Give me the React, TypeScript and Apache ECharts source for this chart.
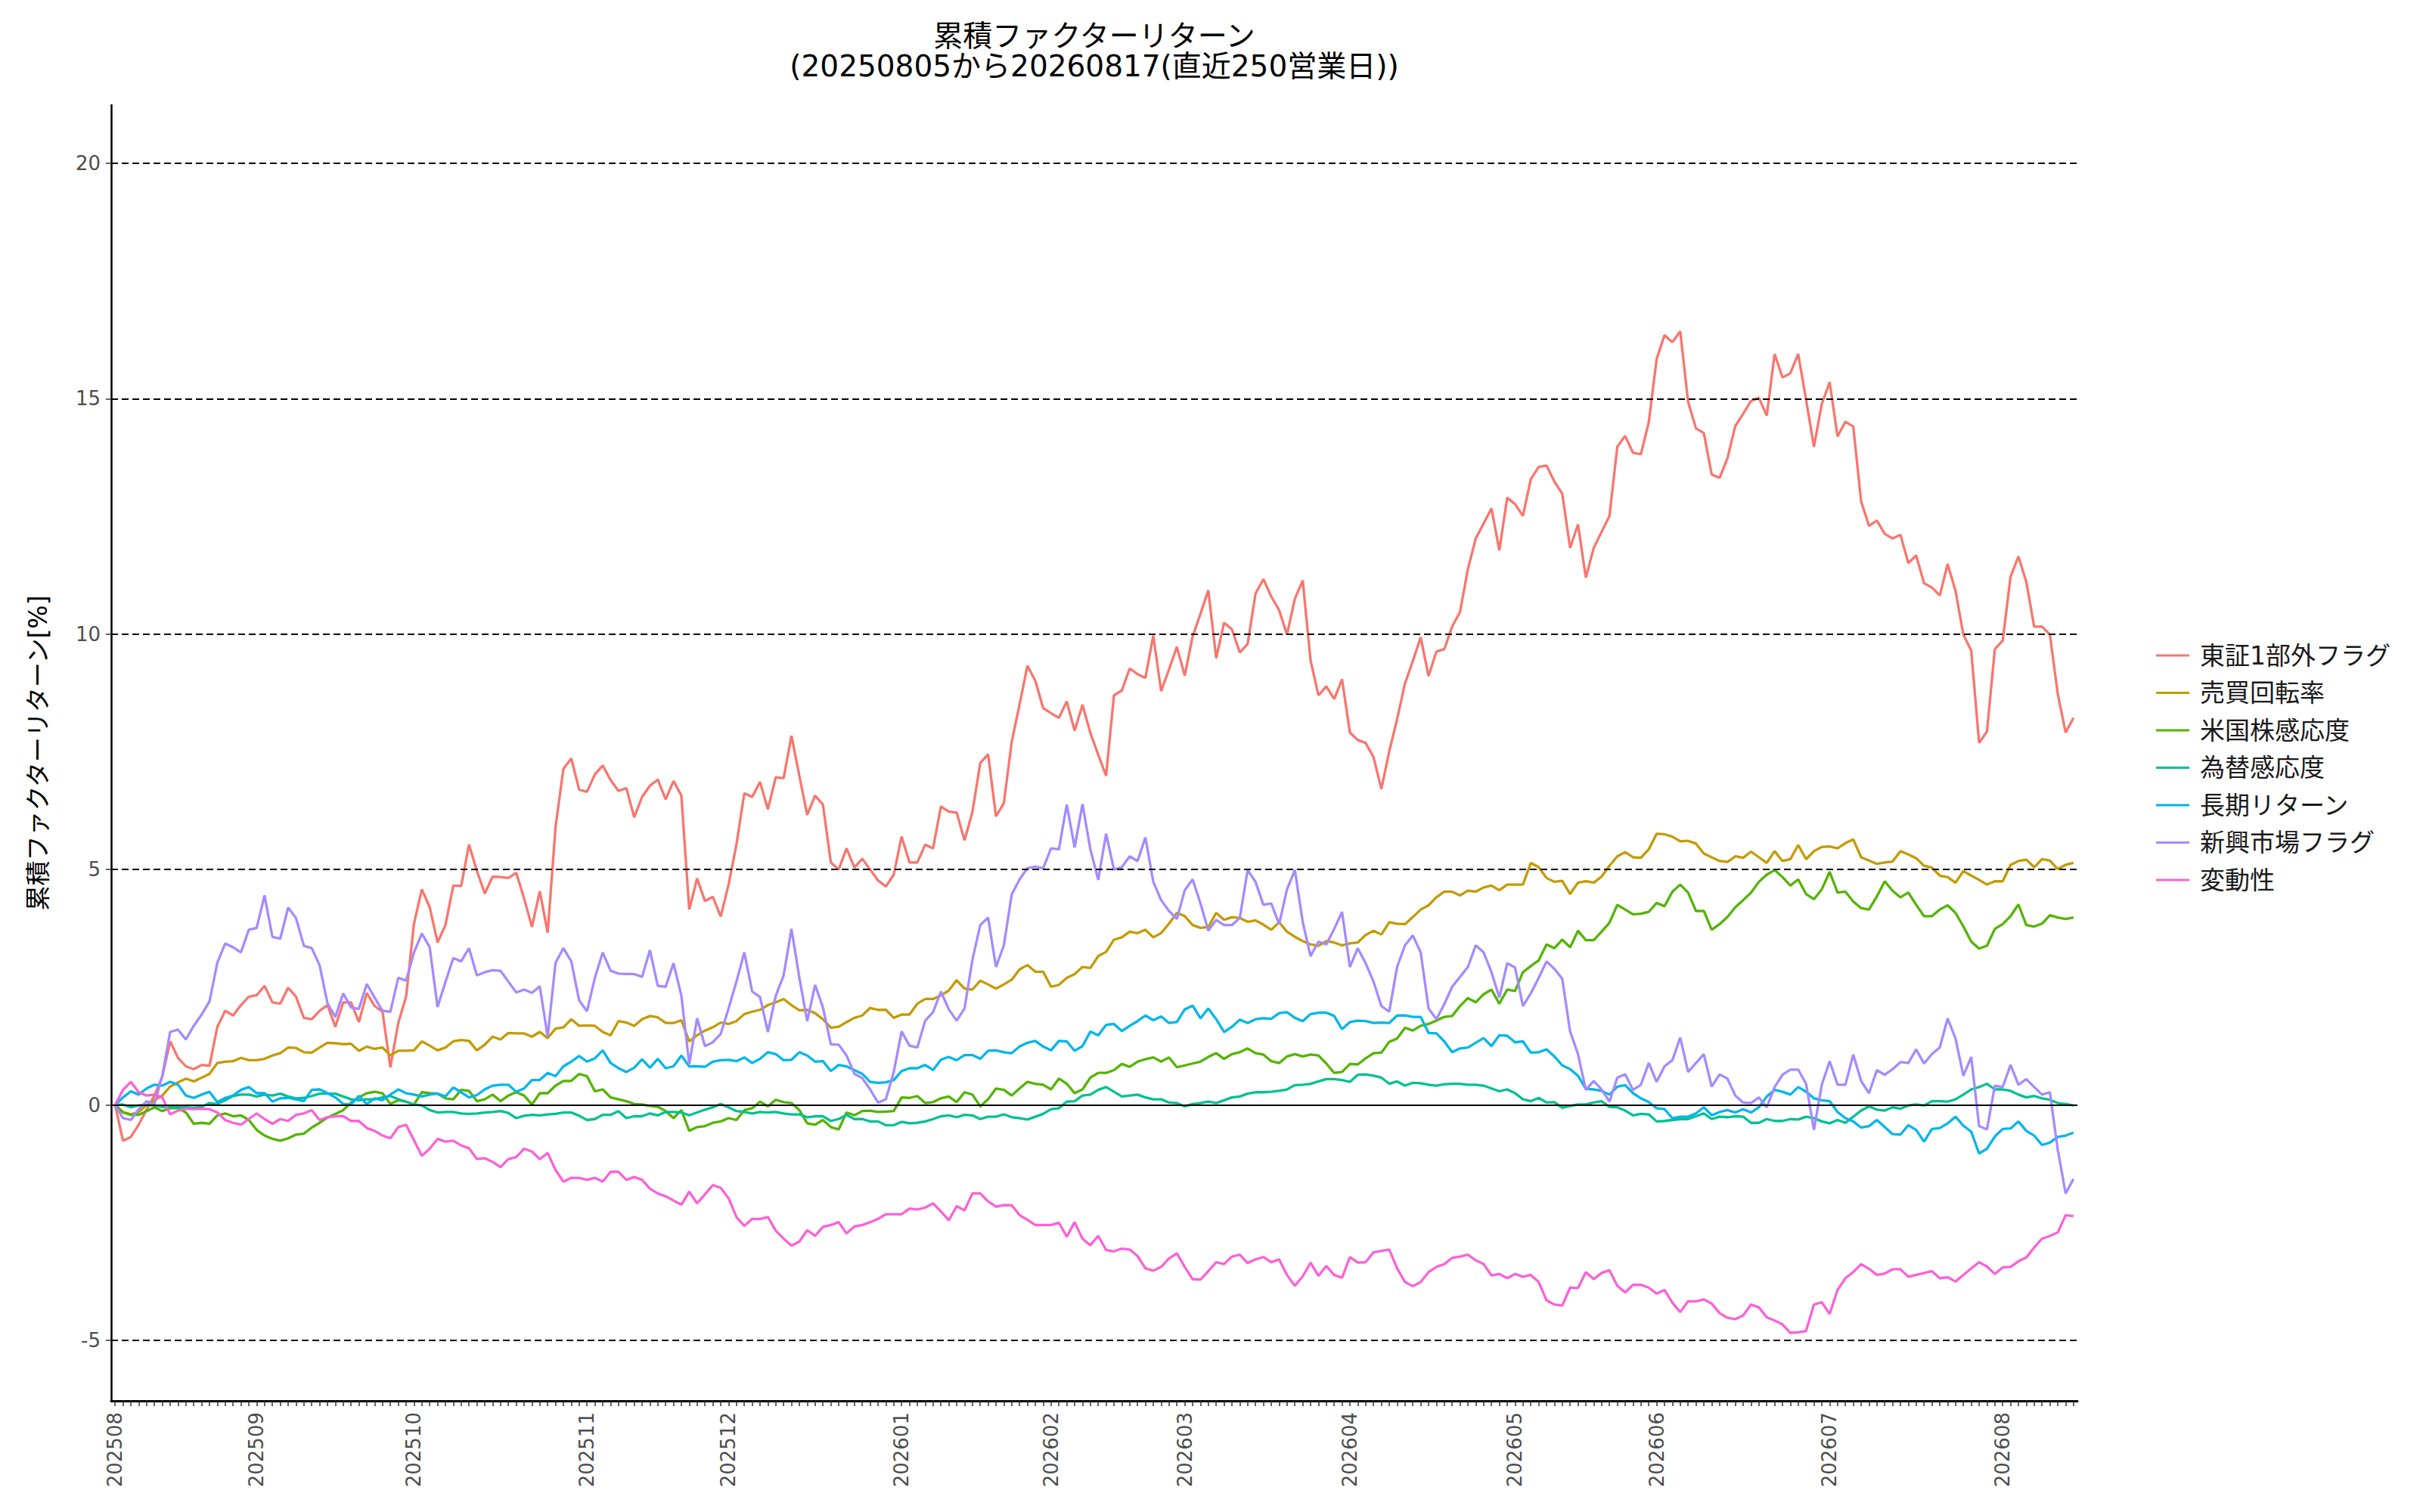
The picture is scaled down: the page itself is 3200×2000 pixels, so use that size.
import React, { useEffect, useRef } from "react";
import * as echarts from "echarts";

const TITLE_LINE_1 = "累積ファクターリターン";
const TITLE_LINE_2 = "(20250805から20260817(直近250営業日))";
const Y_NAME = "累積ファクターリターン[%]";

const MONTHS = ["202508", "202509", "202510", "202511", "202512", "202601", "202602", "202603", "202604", "202605", "202606", "202607", "202608"];
const MONTH_DAYS = [18, 20, 22, 18, 22, 19, 17, 21, 21, 18, 22, 22, 10];

const Y_TICKS = [-5, 0, 5, 10, 15, 20];
const DASHED_LEVELS = [-5, 5, 10, 15, 20];

const SERIES_NAMES = ["東証1部外フラグ", "売買回転率", "米国株感応度", "為替感応度", "長期リターン", "新興市場フラグ", "変動性"];
const COLORS = ["#F8766D", "#C49A00", "#53B400", "#00C094", "#00B6EB", "#A58AFF", "#FB61D7"];

const TSE_OUTSIDE = [
  0, -0.76, -0.68, -0.42, -0.1, 0.2, 0.6, 1.35, 1.0, 0.82,
  0.76, 0.85, 0.83, 1.66, 2.0, 1.9, 2.12, 2.3, 2.33, 2.53,
  2.18, 2.15, 2.49, 2.3, 1.85, 1.82, 2.0, 2.12, 1.66, 2.18,
  2.18, 1.76, 2.38, 2.1, 1.98, 0.8, 1.74, 2.3, 3.85, 4.58,
  4.2, 3.45, 3.82, 4.66, 4.65, 5.53, 4.97, 4.49, 4.85, 4.84,
  4.82, 4.93, 4.39, 3.78, 4.54, 3.66,
  5.9, 7.14, 7.36, 6.7, 6.65, 7.02, 7.21, 6.9, 6.67, 6.73,
  6.11, 6.54, 6.78, 6.91, 6.49, 6.88, 6.57, 4.15, 4.81, 4.33,
  4.42, 4.0, 4.68, 5.53, 6.62, 6.54, 6.86, 6.28, 6.96, 6.94,
  7.84, 6.99, 6.16, 6.57, 6.38, 5.15, 5.0, 5.45, 5.04, 5.23,
  5.0, 4.77, 4.64, 4.89, 5.7, 5.15, 5.15, 5.53, 5.45, 6.34,
  6.23, 6.21, 5.62, 6.22, 7.26, 7.45, 6.13, 6.41, 7.71, 8.51,
  9.33, 9.01, 8.43, 8.32, 8.22, 8.57, 7.95, 8.5, 7.9, 7.44,
  6.99, 8.7, 8.8, 9.27, 9.15, 9.07, 9.97, 8.79, 9.25, 9.73,
  9.12, 9.95, 10.43, 10.93, 9.49, 10.24, 10.1, 9.61, 9.79, 10.86,
  11.17, 10.8, 10.51, 9.99, 10.75, 11.14, 9.44, 8.7, 8.89, 8.62,
  9.04,
  7.91, 7.75, 7.69, 7.39, 6.71, 7.51, 8.19, 8.95, 9.43, 9.93,
  9.11, 9.63, 9.68, 10.16, 10.47, 11.38, 12.03, 12.35, 12.67, 11.78,
  12.9, 12.76, 12.51, 13.29, 13.55, 13.58, 13.24, 12.98, 11.83, 12.33,
  11.2, 11.83, 12.17, 12.51, 13.98, 14.21, 13.85, 13.82, 14.5, 15.84,
  16.35, 16.2, 16.43, 14.93, 14.37, 14.27, 13.39, 13.32, 13.73, 14.42,
  14.68, 14.95, 15.02, 14.64, 15.95, 15.45, 15.54, 15.95, 14.98, 13.98,
  14.89, 15.35, 14.2, 14.51, 14.41, 12.82, 12.3, 12.41, 12.13, 12.03,
  12.11, 11.51, 11.67, 11.08, 10.99, 10.82, 11.49, 10.92, 9.99, 9.65,
  7.69, 7.93, 9.68, 9.86, 11.22, 11.65, 11.11, 10.16, 10.16, 9.99,
  8.73, 7.91, 8.22,
];

const TURNOVER = [
  0, -0.15, -0.2, -0.15, 0.0, 0.1, 0.2, 0.39, 0.48, 0.56,
  0.5, 0.58, 0.66, 0.89, 0.92, 0.93, 1.0, 0.95, 0.95, 0.98,
  1.05, 1.1, 1.22, 1.21, 1.12, 1.11, 1.22, 1.32, 1.31, 1.29,
  1.3, 1.15, 1.24, 1.19, 1.22, 1.05, 1.15, 1.15, 1.16, 1.35,
  1.26, 1.16, 1.22, 1.35, 1.38, 1.36, 1.16, 1.28, 1.45, 1.39,
  1.53, 1.52, 1.52, 1.45, 1.55, 1.42, 1.62, 1.65, 1.82, 1.68,
  1.69, 1.68, 1.55,
  1.48, 1.78, 1.75, 1.68, 1.82, 1.89, 1.86, 1.74, 1.74, 1.8,
  1.35, 1.48, 1.58, 1.65, 1.75, 1.72, 1.78, 1.93, 1.98, 2.02,
  2.12, 2.18, 2.25, 2.12, 2.01, 2.02, 1.95, 1.82, 1.64, 1.66,
  1.76, 1.85, 1.9, 2.06, 2.02, 2.02, 1.85, 1.92, 1.92, 2.15,
  2.25, 2.25, 2.33, 2.43, 2.65, 2.47, 2.45, 2.64, 2.56, 2.47,
  2.56, 2.66, 2.88, 2.97, 2.83, 2.83, 2.51, 2.55, 2.7, 2.78,
  2.93, 2.91, 3.16,
  3.25, 3.51, 3.56, 3.68, 3.65, 3.72, 3.56, 3.65, 3.85, 4.08,
  4.01, 3.82, 3.76, 3.78, 4.08, 3.93, 3.99, 3.97, 3.89, 3.92,
  3.83, 3.72, 3.88, 3.68, 3.57, 3.48, 3.41, 3.38, 3.48, 3.45,
  3.39, 3.43, 3.45, 3.61, 3.7, 3.62, 3.88, 3.85, 3.84, 3.99,
  4.15, 4.24, 4.41, 4.53, 4.53, 4.45, 4.55, 4.53, 4.62, 4.66,
  4.56, 4.68, 4.68, 4.68, 5.14, 5.05, 4.82, 4.74, 4.76, 4.48,
  4.72, 4.75, 4.72, 4.85,
  5.08, 5.28, 5.37, 5.26, 5.25, 5.43, 5.76, 5.75, 5.7, 5.6,
  5.61, 5.55, 5.34, 5.26, 5.18, 5.16, 5.28, 5.25, 5.38, 5.26,
  5.14, 5.39, 5.18, 5.22, 5.52, 5.22, 5.39, 5.48, 5.49, 5.45,
  5.56, 5.64, 5.26, 5.19, 5.12, 5.15, 5.17, 5.39, 5.32, 5.24,
  5.08, 5.04, 4.87, 4.84, 4.72, 4.97, 4.87, 4.78, 4.68, 4.75,
  4.75, 5.1, 5.18, 5.21, 5.05, 5.22, 5.19, 5.01, 5.1, 5.14,
];

const US_SENS = [
  0, -0.16, -0.21, -0.21, -0.13, -0.05, -0.13, -0.07, -0.07, -0.16,
  -0.4, -0.38, -0.4, -0.22, -0.18, -0.24, -0.22, -0.32, -0.53, -0.65,
  -0.72, -0.76, -0.71, -0.63, -0.61, -0.48, -0.38, -0.27, -0.19, -0.11,
  0.05, 0.16, 0.25, 0.28, 0.25, 0.02, 0.1, 0.07, 0.01, 0.27,
  0.25, 0.24, 0.14, 0.12, 0.32, 0.3, 0.08, 0.12, 0.22, 0.08,
  0.2, 0.27, 0.2, 0.01, 0.25, 0.25, 0.41, 0.51, 0.51, 0.66,
  0.61, 0.29, 0.33,
  0.16, 0.12, 0.08, 0.02, 0.01, -0.02, -0.04, -0.13, -0.28, -0.11,
  -0.55, -0.47, -0.45, -0.38, -0.35, -0.28, -0.32, -0.11, -0.07, 0.07,
  -0.03, 0.11, 0.06, 0.04, -0.11, -0.39, -0.42, -0.32, -0.47, -0.52,
  -0.16, -0.22, -0.13, -0.12, -0.15, -0.14, -0.13, 0.16, 0.15, 0.19,
  0.04, 0.06, 0.14, 0.18, 0.06, 0.27, 0.22, -0.03, 0.12, 0.35,
  0.32, 0.2, 0.35, 0.49, 0.45, 0.43, 0.33, 0.56, 0.45, 0.25,
  0.33, 0.58, 0.68,
  0.68, 0.74, 0.87, 0.81, 0.92, 0.97, 1.01, 0.92, 1.01, 0.8,
  0.84, 0.88, 0.92, 1.02, 1.1, 0.98, 1.08, 1.12, 1.2, 1.1,
  1.07, 0.93, 0.89, 1.03, 1.08, 1.03, 1.07, 1.05, 0.88, 0.68,
  0.7, 0.87, 0.86, 0.99, 1.1, 1.11, 1.34, 1.41, 1.64, 1.58,
  1.68, 1.72, 1.79, 1.87, 1.89, 2.1, 2.27, 2.18, 2.35, 2.45,
  2.15, 2.45, 2.42, 2.82, 2.95, 3.07, 3.41, 3.33, 3.51, 3.35,
  3.7, 3.5, 3.5, 3.68,
  3.87, 4.25, 4.15, 4.05, 4.06, 4.1, 4.29, 4.22, 4.53, 4.68,
  4.51, 4.12, 4.12, 3.72, 3.84, 3.99, 4.2, 4.35, 4.51, 4.74,
  4.89, 4.99, 4.84, 4.66, 4.79, 4.48, 4.37, 4.58, 4.95, 4.51,
  4.53, 4.32, 4.18, 4.15, 4.43, 4.75, 4.55, 4.41, 4.51, 4.25,
  4.01, 4.01, 4.15, 4.24, 4.08, 3.79, 3.47, 3.32, 3.38, 3.74,
  3.84, 4.01, 4.26, 3.82, 3.79, 3.85, 4.03, 3.98, 3.95, 3.98,
];

const FX_SENS = [
  0, 0.01, -0.05, -0.01, 0.0, -0.01, -0.04, -0.05, -0.05, -0.05,
  -0.06, -0.04, 0.04, 0.02, 0.1, 0.19, 0.22, 0.22, 0.18, 0.22,
  0.2, 0.24, 0.18, 0.14, 0.15, 0.19, 0.24, 0.24, 0.24, 0.18,
  0.12, 0.1, 0.12, 0.12, 0.16, 0.19, 0.12, 0.07, 0.01, -0.01,
  -0.11, -0.16, -0.15, -0.15, -0.18, -0.19, -0.18, -0.16, -0.15, -0.13,
  -0.17, -0.28, -0.23, -0.21, -0.22, -0.2, -0.19, -0.16, -0.16, -0.23,
  -0.32, -0.3, -0.21,
  -0.21, -0.13, -0.28, -0.24, -0.24, -0.18, -0.22, -0.15, -0.15, -0.16,
  -0.22, -0.16, -0.1, -0.05, 0.02, -0.05, -0.13, -0.15, -0.18, -0.15,
  -0.16, -0.15, -0.18, -0.2, -0.2, -0.26, -0.24, -0.24, -0.34, -0.3,
  -0.21, -0.3, -0.3, -0.35, -0.35, -0.43, -0.43, -0.36, -0.39, -0.38,
  -0.35, -0.3, -0.24, -0.22, -0.26, -0.21, -0.22, -0.3, -0.25, -0.25,
  -0.2, -0.26, -0.28, -0.31, -0.25, -0.19, -0.09, -0.07, 0.07, 0.08,
  0.2, 0.22, 0.32,
  0.38, 0.28, 0.18, 0.2, 0.22, 0.16, 0.12, 0.12, 0.05, 0.04,
  -0.03, 0.02, 0.04, 0.07, 0.04, 0.1, 0.16, 0.18, 0.24, 0.27,
  0.27, 0.28, 0.3, 0.33, 0.42, 0.43, 0.45, 0.5, 0.55, 0.55,
  0.53, 0.49, 0.64, 0.65, 0.62, 0.58, 0.45, 0.5, 0.41, 0.47,
  0.46, 0.43, 0.41, 0.44, 0.45, 0.45, 0.43, 0.43, 0.41, 0.35,
  0.29, 0.33, 0.25, 0.12, 0.08, 0.15, 0.05, 0.06, -0.06, -0.02,
  0.01, 0.01, 0.05, 0.08,
  -0.04, -0.05, -0.12, -0.22, -0.19, -0.2, -0.35, -0.34, -0.32, -0.3,
  -0.3, -0.24, -0.18, -0.3, -0.25, -0.26, -0.24, -0.25, -0.38, -0.38,
  -0.3, -0.34, -0.34, -0.3, -0.31, -0.25, -0.28, -0.35, -0.39, -0.32,
  -0.38, -0.25, -0.12, -0.03, -0.1, -0.12, -0.05, -0.08, -0.01, 0.01,
  -0.01, 0.08, 0.08, 0.07, 0.12, 0.22, 0.33, 0.38, 0.45, 0.33,
  0.33, 0.3, 0.22, 0.16, 0.19, 0.14, 0.11, 0.04, 0.02, -0.01,
];

const LONG_RETURN = [
  0, 0.16, 0.29, 0.22, 0.35, 0.43, 0.41, 0.49, 0.43, 0.2,
  0.15, 0.22, 0.28, 0.06, 0.15, 0.2, 0.32, 0.38, 0.25, 0.25,
  0.07, 0.14, 0.15, 0.12, 0.08, 0.32, 0.33, 0.25, 0.16, 0.02,
  0.01, 0.19, 0.02, 0.14, 0.1, 0.22, 0.33, 0.25, 0.22, 0.18,
  0.22, 0.24, 0.18, 0.37, 0.27, 0.16, 0.21, 0.33, 0.41, 0.43,
  0.43, 0.28, 0.35, 0.53, 0.53, 0.68, 0.61, 0.82, 0.92, 1.04,
  0.92, 0.99, 1.16,
  0.89, 0.78, 0.7, 0.79, 0.97, 0.79, 0.98, 0.78, 0.82, 1.05,
  0.82, 0.82, 0.81, 0.92, 0.95, 0.96, 0.93, 1.01, 0.89, 0.98,
  1.12, 1.08, 0.95, 0.96, 1.12, 1.05, 0.92, 0.93, 0.72, 0.85,
  0.82, 0.74, 0.66, 0.49, 0.47, 0.48, 0.53, 0.72, 0.78, 0.78,
  0.85, 0.74, 0.96, 1.02, 0.95, 1.06, 1.06, 0.98, 1.15, 1.16,
  1.12, 1.1, 1.24, 1.32, 1.36, 1.24, 1.16, 1.36, 1.35, 1.15,
  1.25, 1.56, 1.48,
  1.7, 1.72, 1.57, 1.68, 1.78, 1.9, 1.8, 1.88, 1.74, 1.76,
  2.03, 2.11, 1.84, 2.05, 1.82, 1.55, 1.66, 1.81, 1.74, 1.82,
  1.84, 1.83, 1.95, 1.97, 1.85, 1.78, 1.93, 1.96, 1.96, 1.89,
  1.61, 1.76, 1.79, 1.78, 1.74, 1.75, 1.74, 1.9, 1.9, 1.87,
  1.87, 1.53, 1.52, 1.35, 1.12, 1.2, 1.22, 1.32, 1.42, 1.25,
  1.48, 1.47, 1.33, 1.35, 1.11, 1.12, 1.18, 1.03, 0.84, 0.76,
  0.62, 0.34, 0.33, 0.3,
  0.22, 0.39, 0.42, 0.25, 0.14, 0.06, -0.07, -0.09, -0.28, -0.25,
  -0.25, -0.18, -0.05, -0.22, -0.15, -0.11, -0.16, -0.09, -0.16, -0.05,
  0.18, 0.32, 0.28, 0.22, 0.38, 0.28, 0.14, 0.1, 0.08, -0.15,
  -0.28, -0.35, -0.48, -0.45, -0.32, -0.47, -0.62, -0.63, -0.43, -0.53,
  -0.78, -0.51, -0.49, -0.39, -0.25, -0.44, -0.57, -1.03, -0.93, -0.67,
  -0.51, -0.5, -0.35, -0.55, -0.65, -0.85, -0.8, -0.68, -0.65, -0.59,
];

const EMERGING = [
  0, -0.28, -0.32, -0.09, 0.08, 0.02, 0.62, 1.55, 1.6, 1.39,
  1.68, 1.92, 2.2, 3.02, 3.43, 3.35, 3.24, 3.72, 3.76, 4.45,
  3.57, 3.53, 4.19, 3.97, 3.38, 3.33, 2.97, 2.16, 1.87, 2.37,
  2.07, 2.04, 2.57, 2.28, 2.0, 1.98, 2.7, 2.64, 3.24, 3.64,
  3.35, 2.08, 2.61, 3.12, 3.05, 3.33, 2.75, 2.82, 2.86, 2.85,
  2.62, 2.39, 2.45, 2.38, 2.52, 1.45, 3.02, 3.33, 3.05, 2.22,
  1.99, 2.7, 3.24,
  2.85, 2.79, 2.78, 2.78, 2.72, 3.29, 2.53, 2.51, 3.01, 2.32,
  0.87, 1.84, 1.25, 1.33, 1.51, 2.05, 2.62, 3.24, 2.41, 2.29,
  1.55, 2.32, 2.75, 3.74, 2.7, 1.78, 2.55, 2.07, 1.29, 1.28,
  1.05, 0.66, 0.57, 0.33, 0.05, 0.12, 0.7, 1.56, 1.26, 1.22,
  1.79, 1.97, 2.41, 2.03, 1.79, 2.05, 3.08, 3.82, 3.98, 2.93,
  3.39, 4.47, 4.79, 5.03, 5.06, 5.03, 5.45, 5.43, 6.38, 5.47,
  6.39, 5.43, 4.78,
  5.76, 5.0, 5.05, 5.28, 5.18, 5.68, 4.74, 4.35, 4.12, 3.95,
  4.56, 4.79, 4.28, 3.7, 3.93, 3.82, 3.82, 3.97, 4.99, 4.74,
  4.25, 4.28, 3.84, 4.58, 4.99, 3.89, 3.16, 3.47, 3.41, 3.74,
  4.1, 2.93, 3.33, 3.01, 2.62, 2.1, 1.98, 2.93, 3.39, 3.6,
  3.24, 2.05, 1.82, 2.14, 2.51, 2.72, 2.93, 3.39, 3.24, 2.82,
  2.28, 3.01, 2.92, 2.1, 2.37, 2.7, 3.05, 2.89, 2.68, 1.56,
  1.08, 0.32, 0.51, 0.33,
  0.07, 0.58, 0.65, 0.32, 0.43, 0.89, 0.49, 0.82, 0.95, 1.43,
  0.7, 0.89, 1.08, 0.39, 0.65, 0.56, 0.2, 0.05, 0.04, 0.16,
  -0.05, 0.38, 0.64, 0.75, 0.75, 0.45, -0.53, 0.43, 0.93, 0.43,
  0.43, 1.07, 0.51, 0.25, 0.74, 0.64, 0.76, 0.91, 0.89, 1.18,
  0.88, 1.08, 1.22, 1.84, 1.41, 0.62, 1.02, -0.45, -0.52, 0.41,
  0.38, 0.85, 0.43, 0.55, 0.38, 0.22, 0.27, -0.95, -1.88, -1.57,
];

const VOLATILITY = [
  0, 0.32, 0.49, 0.27, 0.2, 0.22, 0.16, -0.2, -0.12, -0.08,
  -0.09, -0.08, -0.09, -0.16, -0.32, -0.38, -0.42, -0.3, -0.18, -0.3,
  -0.4, -0.3, -0.34, -0.21, -0.18, -0.11, -0.32, -0.26, -0.24, -0.24,
  -0.34, -0.34, -0.49, -0.55, -0.65, -0.71, -0.47, -0.42, -0.75, -1.08,
  -0.93, -0.72, -0.78, -0.76, -0.86, -0.92, -1.15, -1.13, -1.21, -1.32,
  -1.15, -1.11, -0.93, -0.99, -1.15, -1.02, -1.38, -1.63, -1.55, -1.55,
  -1.59, -1.55, -1.63,
  -1.42, -1.42, -1.59, -1.53, -1.59, -1.78, -1.88, -1.94, -2.03, -2.12,
  -1.84, -2.09, -1.9, -1.7, -1.76, -1.98, -2.38, -2.57, -2.42, -2.42,
  -2.38, -2.67, -2.84, -2.99, -2.9, -2.66, -2.78, -2.59, -2.55, -2.49,
  -2.73, -2.58, -2.55, -2.49, -2.42, -2.32, -2.32, -2.32, -2.2, -2.22,
  -2.18, -2.09, -2.26, -2.45, -2.15, -2.24, -1.88, -1.88, -2.05, -2.16,
  -2.13, -2.13, -2.34, -2.44, -2.55, -2.55, -2.55, -2.5, -2.8, -2.49,
  -2.84, -2.98, -2.78,
  -3.08, -3.11, -3.05, -3.07, -3.21, -3.47, -3.52, -3.44, -3.26, -3.15,
  -3.44, -3.7, -3.71, -3.53, -3.34, -3.38, -3.22, -3.18, -3.36, -3.28,
  -3.23, -3.34, -3.28, -3.61, -3.84, -3.64, -3.35, -3.63, -3.42, -3.61,
  -3.67, -3.23, -3.35, -3.34, -3.13, -3.1, -3.07, -3.47, -3.76, -3.85,
  -3.76, -3.55, -3.44, -3.38, -3.25, -3.22, -3.18, -3.3, -3.38, -3.62,
  -3.59, -3.68, -3.59, -3.65, -3.61, -3.76, -4.15, -4.24, -4.26, -3.88,
  -3.89, -3.55, -3.7, -3.57,
  -3.51, -3.84, -3.98, -3.82, -3.82, -3.88, -4.01, -3.93, -4.2, -4.4,
  -4.17, -4.17, -4.13, -4.22, -4.42, -4.52, -4.55, -4.47, -4.24, -4.3,
  -4.51, -4.58, -4.66, -4.84, -4.83, -4.8, -4.24, -4.19, -4.44, -3.93,
  -3.68, -3.55, -3.38, -3.48, -3.61, -3.58, -3.49, -3.49, -3.65, -3.61,
  -3.57, -3.53, -3.68, -3.66, -3.75, -3.61, -3.47, -3.34, -3.43, -3.59,
  -3.45, -3.44, -3.32, -3.24, -3.03, -2.84, -2.78, -2.71, -2.34, -2.36,
];

const SERIES_VALUES = [TSE_OUTSIDE, TURNOVER, US_SENS, FX_SENS, LONG_RETURN, EMERGING, VOLATILITY];

// categories: one per business day, tagged with its month and position within the month
const CATEGORIES: string[] = [];
MONTHS.forEach((m, mi) => {
  for (let k = 0; k < MONTH_DAYS[mi]; k++) CATEGORIES.push(m + "_" + k);
});

const FONT = "'DejaVu Sans', 'Noto Sans CJK JP', sans-serif";

export default function App() {
  const ref = useRef<HTMLDivElement>(null);
  useEffect(() => {
    document.body.style.margin = "0";
    document.body.style.overflow = "hidden";
    if (!ref.current) return;
    const chart = echarts.init(ref.current, null, { renderer: "svg" });

    const lineSeries = SERIES_NAMES.map((name, i) => ({
      name,
      type: "line",
      data: SERIES_VALUES[i],
      showSymbol: false,
      symbol: "none",
      lineStyle: { color: COLORS[i], width: 3.3 },
      itemStyle: { color: COLORS[i] },
      z: 3,
      emphasis: { disabled: true },
    }));

    const refSeries = {
      name: "__ref",
      type: "line",
      data: CATEGORIES.map(() => null),
      showSymbol: false,
      silent: true,
      z: 1,
      markLine: {
        silent: true,
        symbol: ["none", "none"],
        label: { show: false },
        emphasis: { disabled: true },
        data: [
          ...DASHED_LEVELS.map((v) => ({
            yAxis: v,
            lineStyle: { color: "#000", width: 2, type: [9, 5] },
          })),
          { yAxis: 0, lineStyle: { color: "#000", width: 2.2, type: "solid" } },
        ],
      },
    };

    const titleStyle = {
      fontFamily: FONT,
      fontSize: 39,
      fontWeight: "normal",
      color: "#000",
      lineHeight: 39,
    };

    chart.setOption({
      animation: false,
      backgroundColor: "#ffffff",
      textStyle: { fontFamily: FONT },
      title: [
        { text: TITLE_LINE_1, left: 1447, top: 28, textAlign: "center", padding: 0, textStyle: titleStyle },
        { text: TITLE_LINE_2, left: 1447, top: 67.5, textAlign: "center", padding: 0, textStyle: titleStyle },
      ],
      legend: {
        data: SERIES_NAMES,
        orient: "vertical",
        left: 2846,
        top: 842,
        icon: "rect",
        itemWidth: 44,
        itemHeight: 3,
        itemGap: 9.5,
        selectedMode: false,
        textStyle: {
          fontFamily: FONT,
          fontSize: 33,
          color: "#1a1a1a",
          lineHeight: 40,
          padding: [0, 0, 0, 9],
        },
      },
      grid: { left: 147, top: 139, width: 2600, height: 1714, containLabel: false },
      xAxis: {
        type: "category",
        data: CATEGORIES,
        boundaryGap: true,
        axisLine: { show: true, onZero: false, lineStyle: { color: "#000", width: 3 } },
        axisTick: {
          show: true,
          interval: 0,
          alignWithLabel: true,
          length: 7,
          lineStyle: { color: "#333", width: 1.5 },
        },
        axisLabel: {
          interval: (index: number, value: string) => value.endsWith("_0"),
          formatter: (value: string) => value.split("_")[0],
          rotate: 90,
          margin: 15,
          fontSize: 26,
          color: "#4d4d4d",
          fontFamily: FONT,
        },
        splitLine: { show: false },
      },
      yAxis: {
        type: "value",
        min: -6.285,
        max: 21.236,
        name: Y_NAME,
        nameLocation: "middle",
        nameGap: 80,
        nameRotate: 90,
        nameTextStyle: { fontFamily: FONT, fontSize: 33, color: "#000" },
        axisLine: { show: true, onZero: false, lineStyle: { color: "#000", width: 2.5 } },
        axisTick: {
          show: true,
          length: 7,
          customValues: Y_TICKS,
          lineStyle: { color: "#333", width: 1.5 },
        },
        axisLabel: {
          customValues: Y_TICKS,
          margin: 14,
          fontSize: 26,
          color: "#4d4d4d",
          fontFamily: FONT,
        },
        splitLine: { show: false },
      },
      series: [refSeries, ...lineSeries],
    });

    return () => chart.dispose();
  }, []);

  return <div ref={ref} style={{ width: 3200, height: 2000 }} />;
}
